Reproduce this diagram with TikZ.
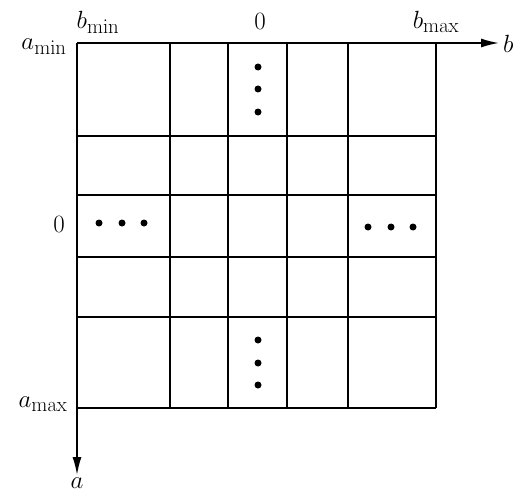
\documentclass[tikz,border=0pt]{standalone}
\usetikzlibrary{arrows.meta}
\begin{document}
\begin{tikzpicture}[x=1pt,y=-1pt,
  gridline/.style={line width=1.6pt},
  axisline/.style={line width=1.6pt,-{Latex[length=18pt,width=9pt]}},
  lbl/.style={inner sep=0pt,font=\Huge},
  dot/.style={circle,fill=black,inner sep=0pt,minimum size=7pt}]
\useasboundingbox (0,0) rectangle (529,500);
% grid
\foreach \x in {170,228,287,348,436} \draw[gridline] (\x,43) -- (\x,408);
\foreach \y in {136,195,257,317,408} \draw[gridline] (77,\y) -- (436,\y);
% axes
\coordinate (O) at (77,43);
\coordinate (bend) at (499,43);
\coordinate (aend) at (77,475);
\draw[axisline] (O) -- (bend);
\draw[axisline] (O) -- (aend);
\node[lbl,anchor=west] (b) at (503,44) {$b$};
\node[lbl,anchor=north] (a) at (77,478) {$a$};
% labels
\node[lbl] (bmin) at (98,22) {$b_{\mathrm{min}}$};
\node[lbl] (bzero) at (260,21) {$0$};
\node[lbl] (bmax) at (436,22) {$b_{\mathrm{max}}$};
\node[lbl] (amin) at (44,47) {$a_{\mathrm{min}}$};
\node[lbl] (azero) at (59,224) {$0$};
\node[lbl] (amax) at (43,404) {$a_{\mathrm{max}}$};
% dots
\foreach \y [count=\i] in {67,89,112} \node[dot] (t\i) at (258,\y) {};
\foreach \y [count=\i] in {340,363,385} \node[dot] (d\i) at (258,\y) {};
\foreach \x [count=\i] in {99,122,144} \node[dot] (l\i) at (\x,223) {};
\foreach \x [count=\i] in {368,391,413} \node[dot] (r\i) at (\x,227) {};
\end{tikzpicture}
\end{document}
